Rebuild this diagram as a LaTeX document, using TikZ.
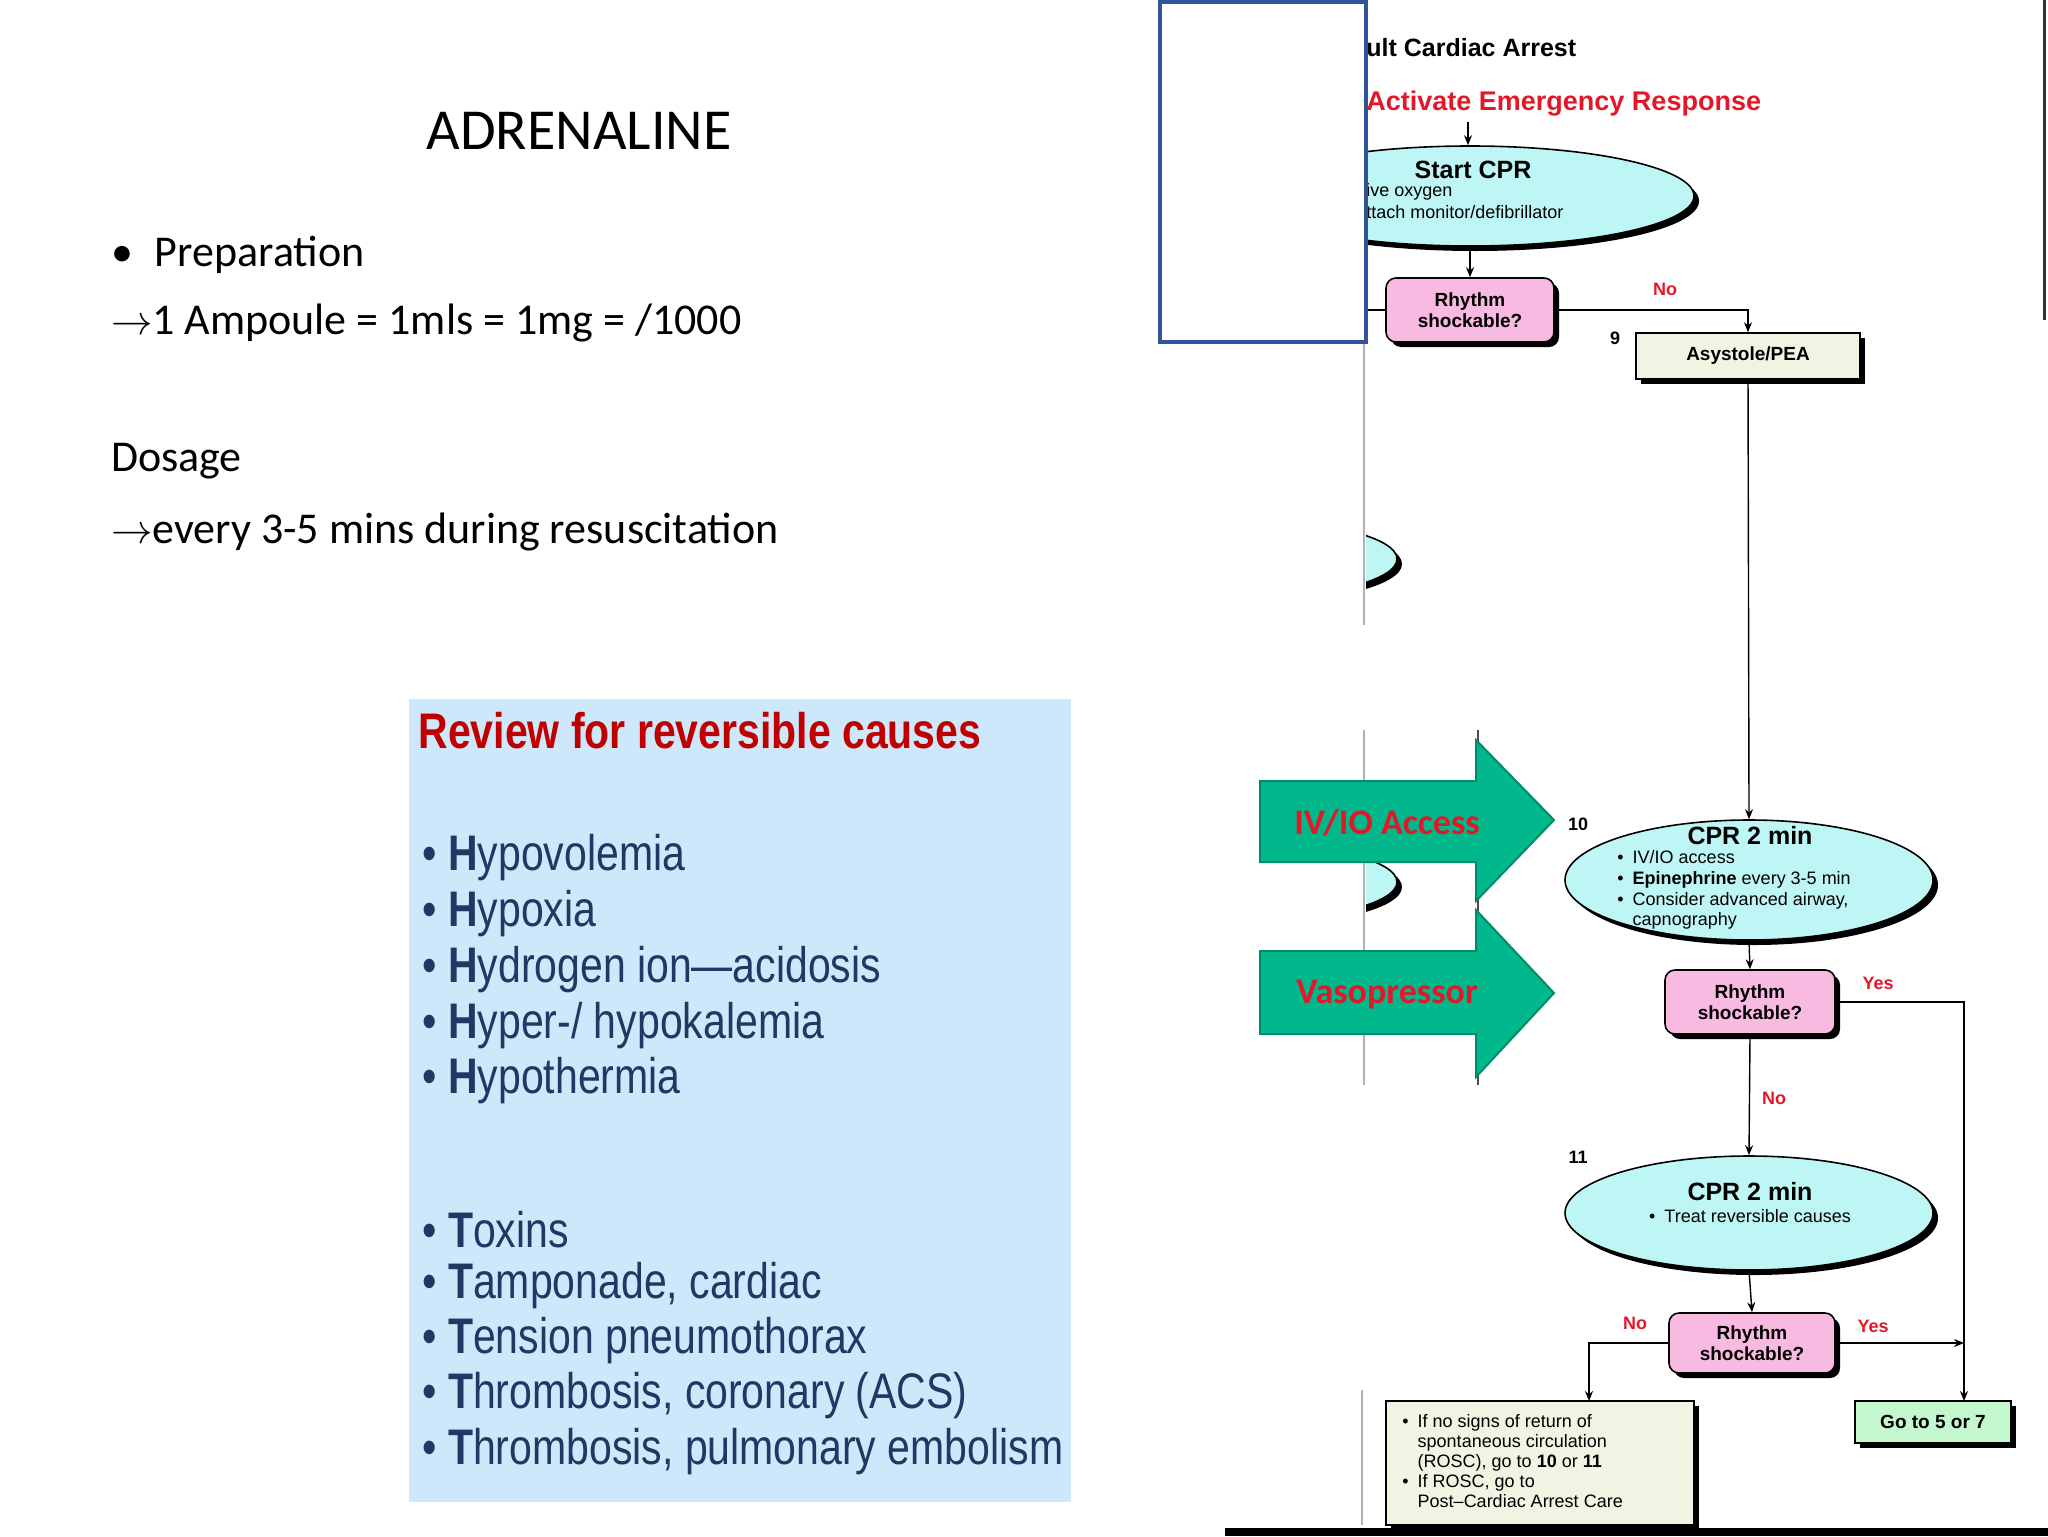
\documentclass[tikz,border=0pt]{standalone}
\usepackage{fontspec}
\setmainfont{Carlito}
\newfontfamily\narrowfont{Liberation Sans}[FakeStretch=0.82]
\newfontfamily\flowfont{Liberation Sans}
\usetikzlibrary{shapes.geometric,shadows,arrows.meta,positioning}

\definecolor{reviewblue}{RGB}{205,232,251}
\definecolor{reviewred}{RGB}{192,0,0}
\definecolor{causenavy}{RGB}{31,56,100}
\definecolor{framblue}{RGB}{47,85,151}
\definecolor{cprcyan}{RGB}{190,246,246}
\definecolor{rhypink}{RGB}{248,186,224}
\definecolor{boxcream}{RGB}{241,244,226}
\definecolor{gogreen}{RGB}{196,247,205}
\definecolor{arrowgreen}{RGB}{0,184,140}
\definecolor{arrowedge}{RGB}{0,140,105}
\definecolor{flowred}{RGB}{226,24,40}

\tikzset{
  shad/.style={drop shadow={shadow xshift=2.5pt,shadow yshift=-2.5pt,fill=black,opacity=1}},
  oval/.style={ellipse,draw,line width=0.8pt,fill=cprcyan,inner sep=0pt,shad},
  decide/.style={rectangle,draw,line width=0.8pt,fill=rhypink,rounded corners=5pt,inner sep=0pt,
    align=center,shad,font=\flowfont\bfseries\fontsize{9.5}{10.5}\selectfont},
  plain/.style={rectangle,draw,line width=0.8pt,fill=boxcream,inner sep=0pt,shad},
  flowtxt/.style={font=\flowfont\fontsize{9}{10}\selectfont,inner sep=0pt},
  flowno/.style={font=\flowfont\bfseries\fontsize{9}{10}\selectfont,text=flowred,inner sep=0pt},
  stepnum/.style={font=\flowfont\bfseries\fontsize{9}{10}\selectfont,inner sep=0pt},
  line/.style={draw,line width=0.7pt},
  cause/.style={anchor=west,inner sep=0pt,text=causenavy,font=\narrowfont\fontsize{25}{28}\selectfont},
  green arrow/.style={fill=arrowgreen,draw=arrowedge,line width=1pt},
  arrowlbl/.style={font=\bfseries\fontsize{18}{20}\selectfont,text=flowred,inner sep=0pt},
}

\begin{document}
\begin{tikzpicture}[x=0.5pt,y=-0.5pt,>={Stealth[length=5pt,width=4pt]}]
\useasboundingbox (0,0) rectangle (2048,1536);

% left slide text
\node[font=\fontsize{29}{32}\selectfont] (title) at (579,131) {ADRENALINE};
\node[anchor=west,font=\fontsize{22}{26}\selectfont] (prep) at (104,255) {•\enspace Preparation};
\node[anchor=west,font=\fontsize{22}{26}\selectfont] (amp) at (104,323) {$\rightarrow$1 Ampoule = 1mls = 1mg = /1000};
\node[anchor=west,font=\fontsize{22}{26}\selectfont] (dos) at (104,461) {Dosage};
\node[anchor=west,font=\fontsize{22}{26}\selectfont] (every) at (104,532) {$\rightarrow$every 3-5 mins during resuscitation};

% reversible causes
\fill[reviewblue] (409,699) rectangle (1071,1502);
\node[anchor=west,inner sep=0pt,text=reviewred,font=\narrowfont\bfseries\fontsize{25}{28}\selectfont] (rev) at (418,731) {Review for reversible causes};
\foreach \y/\t in {858/{\textbf{H}ypovolemia},914/{\textbf{H}ypoxia},970/{\textbf{H}ydrogen ion—acidosis},
  1026/{\textbf{H}yper-/ hypokalemia},1081/{\textbf{H}ypothermia},1230/{\textbf{T}oxins},
  1286/{\textbf{T}amponade, cardiac},1341/{\textbf{T}ension pneumothorax},
  1396/{\textbf{T}hrombosis, coronary (ACS)},1452/{\textbf{T}hrombosis, pulmonary embolism}}
  \node[cause] at (422,\y) {• \t};

% cut-off pieces of the chart
\draw[gray!60,line width=0.6pt] (1364,342) -- (1364,625) (1364,730) -- (1364,1085) (1362,1390) -- (1362,1525);
\draw[black!70,line width=1.2pt] (1478,730) -- (1478,1085);
\draw[black!80,line width=1.5pt] (2044,0) -- (2044,320);
\begin{scope}
  \clip (1366,0) rectangle (2048,1536);
  \node[oval,minimum width=147pt,minimum height=38pt] (frag1) at (1250,559) {};
  \node[oval,minimum width=147pt,minimum height=38pt] (frag2) at (1250,882) {};
  \node[oval,minimum width=224pt,minimum height=50pt] (cpr1) at (1470,196) {};
\end{scope}

% header
\node[anchor=west,inner sep=0pt,font=\flowfont\bfseries\fontsize{12.5}{14}\selectfont] (head) at (1366,48) {ult Cardiac Arrest};
\node[anchor=west,inner sep=0pt,text=flowred,font=\flowfont\bfseries\fontsize{13.5}{15}\selectfont] (act) at (1366,104) {Activate Emergency Response};
\node[inner sep=0pt,font=\flowfont\bfseries\fontsize{12.5}{14}\selectfont] (cpr1t) at (1473,170) {Start CPR};
\node[flowtxt,anchor=west] (cpr1a) at (1366,192) {ive oxygen};
\node[flowtxt,anchor=west] (cpr1b) at (1366,212) {ttach monitor/defibrillator};

% boxes
\node[decide,minimum width=84pt,minimum height=32pt] (rhy1) at (1470,310) {Rhythm\\shockable?};
\node[plain,minimum width=112pt,minimum height=23pt,font=\flowfont\bfseries\fontsize{9.5}{10.5}\selectfont] (asy) at (1748,356) {Asystole/PEA};
\node[stepnum] (n9) at (1615,338) {9};
\node[oval,minimum width=184pt,minimum height=60pt] (cpr2) at (1749,880) {};
\node[stepnum] (n10) at (1578,824) {10};
\node[inner sep=0pt,font=\flowfont\bfseries\fontsize{12.5}{14}\selectfont] (cpr2t) at (1750,836) {CPR 2 min};
\node[flowtxt,anchor=north west,align=left] (cpr2l) at (1617,850)
  {•\enspace IV/IO access\\[0.4pt]•\enspace \textbf{Epinephrine} every 3-5 min\\[0.4pt]•\enspace Consider advanced airway,\\[0.4pt]\phantom{•\enspace}capnography};
\node[decide,minimum width=85pt,minimum height=32pt] (rhy2) at (1750,1002) {Rhythm\\shockable?};
\node[oval,minimum width=184pt,minimum height=57pt] (cpr3) at (1749,1213) {};
\node[stepnum] (n11) at (1578,1157) {11};
\node[inner sep=0pt,font=\flowfont\bfseries\fontsize{12.5}{14}\selectfont] (cpr3t) at (1750,1192) {CPR 2 min};
\node[flowtxt] (cpr3l) at (1750,1216) {•\enspace Treat reversible causes};
\node[decide,minimum width=83pt,minimum height=30pt] (rhy3) at (1752,1343) {Rhythm\\shockable?};
\node[plain,minimum width=154pt,minimum height=62pt] (post) at (1540,1463) {};
\node[flowtxt,anchor=north west,align=left] (postt) at (1402,1414)
  {•\enspace If no signs of return of\\\phantom{•\enspace}spontaneous circulation\\\phantom{•\enspace}(ROSC), go to \textbf{10} or \textbf{11}\\•\enspace If ROSC, go to\\\phantom{•\enspace}Post–Cardiac Arrest Care};
\node[rectangle,draw,line width=0.8pt,fill=gogreen,shad,inner sep=0pt,minimum width=78pt,minimum height=21pt,
  font=\flowfont\bfseries\fontsize{9.5}{10.5}\selectfont] (go) at (1933,1422) {Go to 5 or 7};
\coordinate (leftcut) at (1366,310);
\coordinate (postin) at (1589,1401);
\coordinate (goin) at (1964,1401);

% connectors
\draw[->,line width=0.7pt] (1468,122) -- (cpr1.north -| 1468,0);
\draw[->,line width=0.7pt] (cpr1.south) -- (rhy1.north);
\draw[line] (rhy1.west) -- (leftcut);
\draw[->,line width=0.7pt] (rhy1.east) -| (asy.north);
\draw[->,line width=0.7pt] (asy.south) -- (cpr2.north);
\draw[->,line width=0.7pt] (cpr2.south) -- (rhy2.north);
\draw[->,line width=0.7pt] (rhy2.east) -| (goin);
\draw[->,line width=0.7pt] (rhy2.south) -- (cpr3.north);
\draw[->,line width=0.7pt] (cpr3.south) -- (rhy3.north);
\draw[->,line width=0.7pt] (rhy3.west) -| (postin);
\draw[->,line width=0.7pt] (rhy3.east) -- (rhy3.east -| goin);
\node[flowno] (no1) at (1665,289) {No};
\node[flowno] (yes2) at (1878,983) {Yes};
\node[flowno] (no2) at (1774,1098) {No};
\node[flowno] (no3) at (1635,1323) {No};
\node[flowno] (yes3) at (1873,1326) {Yes};

% green arrows
\draw[green arrow] (1260,781) -- (1476,781) -- (1476,740) -- (1554,820) -- (1476,901) -- (1476,862) -- (1260,862) -- cycle;
\node[arrowlbl] (iv) at (1387,823) {IV/IO Access};
\draw[green arrow] (1260,951) -- (1476,951) -- (1476,910) -- (1554,993) -- (1476,1077) -- (1476,1034) -- (1260,1034) -- cycle;
\node[arrowlbl] (vaso) at (1387,995) {Vasopressor};

% frame and bottom bar
\draw[framblue,line width=2pt] (1160,2) rectangle (1366,342);
\fill[black] (1225,1528) rectangle (2048,1536);
\end{tikzpicture}
\end{document}
